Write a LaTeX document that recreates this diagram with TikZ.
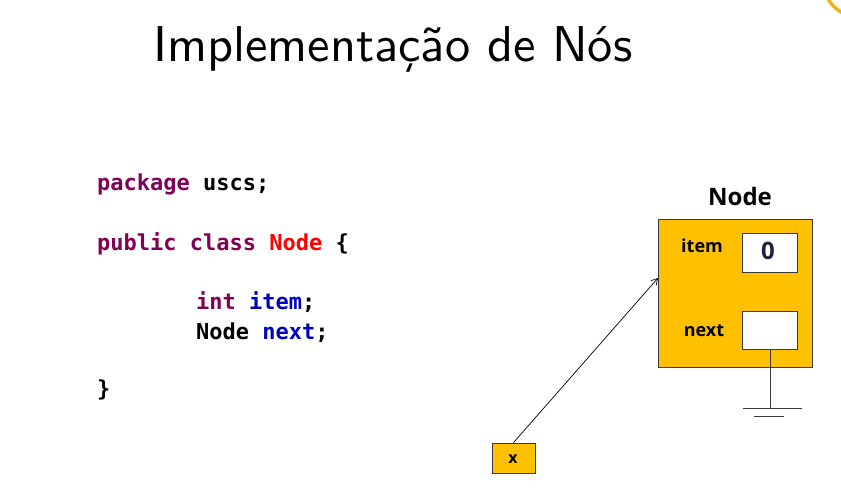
\documentclass[tikz,border=0pt]{standalone}
\usepackage{fontspec}
\setmainfont{Open Sans}
\setmonofont{DejaVu Sans Mono}
\usetikzlibrary{arrows.meta}
\definecolor{gold}{HTML}{FFC000}
\definecolor{ringgold}{HTML}{EDB21C}
\definecolor{kw}{HTML}{7F0055}
\definecolor{fld}{HTML}{0000C0}
\definecolor{edge}{HTML}{3A3A3A}
\definecolor{digit}{HTML}{202040}
\begin{document}
\begin{tikzpicture}[x=1pt,y=-1pt,
  codeline/.style={anchor=base west, inner sep=0pt,
    font=\ttfamily\bfseries\fontsize{22}{26}\selectfont},
  objbox/.style={draw=edge, line width=0.8pt, fill=gold},
  cell/.style={draw=edge, line width=0.8pt, fill=white},
  lbl/.style={anchor=base, inner sep=0pt, font=\bfseries\fontsize{18}{20}\selectfont},
  wire/.style={draw=edge, line width=0.8pt}]
\useasboundingbox (0,0) rectangle (841,497);

% decorative ring in the corner
\begin{scope}
  \clip (0,0) rectangle (841,497);
  \draw[ringgold, line width=3.5pt] (862,-22) circle[radius=40];
\end{scope}

% title
\node[anchor=base west, inner sep=0pt] (title) at (153,62)
  {\resizebox{479pt}{!}{\sffamily Implementação de Nós}};

% source code
\node[codeline] (c1) at (97,191) {\textcolor{kw}{package} uscs;};
\node[codeline] (c2) at (97,251) {\textcolor{kw}{public class} \textcolor{red}{Node} \{};
\node[codeline] (c3) at (196,309) {\textcolor{kw}{int} \textcolor{fld}{item};};
\node[codeline] (c4) at (196,339) {Node \textcolor{fld}{next};};
\node[codeline] (c5) at (97,396) {\}};

% object in memory
\node[objbox, minimum width=154pt, minimum height=148pt] (obj) at (735,293) {};
\node[lbl, font=\bfseries\fontsize{24}{26}\selectfont] (objname) at (740,206) {Node};
\node[cell, minimum width=55pt, minimum height=39pt] (itemcell) at (769.5,252.5) {};
\node[cell, minimum width=55pt, minimum height=38pt] (nextcell) at (769.5,330) {};
\node[lbl] (itemlbl) at (702,253) {item};
\node[lbl] (nextlbl) at (704,336) {next};
\node[anchor=base, inner sep=0pt, text=digit, font=\bfseries\fontsize{24}{26}\selectfont] (zero) at (768,260) {0};

% null reference (ground symbol)
\coordinate (gnd) at (770,408);
\coordinate (gnd2) at (770,416);
\draw[wire] (nextcell.south -| gnd) -- (gnd);
\draw[wire] ([xshift=-27pt]gnd) -- ([xshift=32pt]gnd);
\draw[wire] ([xshift=-16pt]gnd2) -- ([xshift=14pt]gnd2);

% variable x pointing to the object
\node[objbox, minimum width=43pt, minimum height=30pt] (xvar) at (513.5,458) {};
\node[lbl, font=\bfseries\fontsize{16}{18}\selectfont] (xlbl) at (513,463) {x};
\coordinate (tip) at (658,278);
\draw[draw=black, line width=0.7pt, -{Straight Barb[length=6pt,width=7pt]}] (xvar.north) -- (tip);
\end{tikzpicture}
\end{document}
